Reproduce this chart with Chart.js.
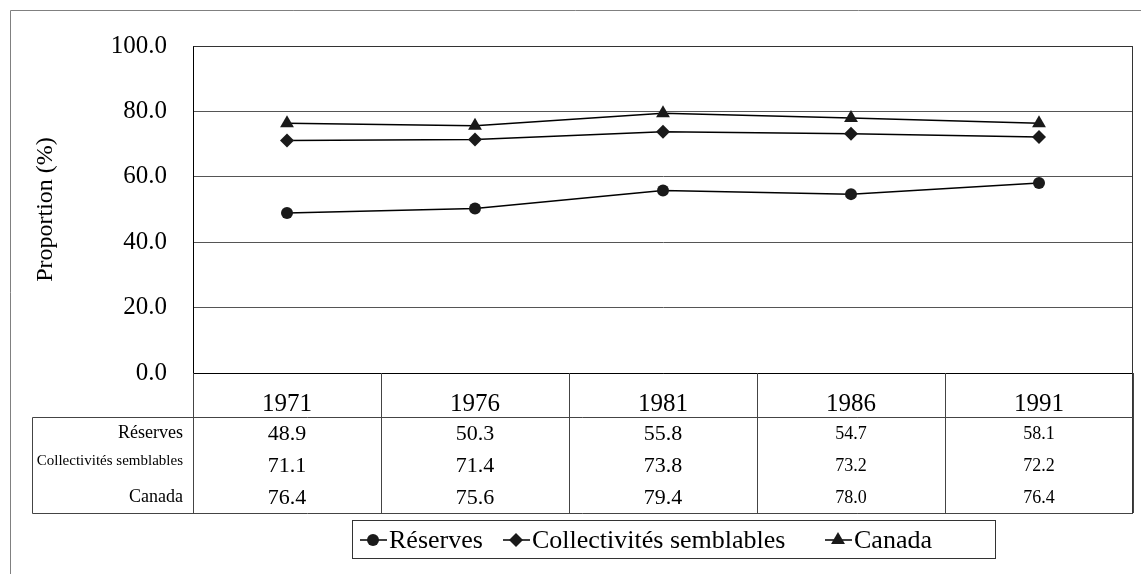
<!DOCTYPE html>
<html>
<head>
<meta charset="utf-8">
<script src="https://cdn.jsdelivr.net/npm/chart.js@4.4.1/dist/chart.umd.min.js"></script>
<style>
  html, body { margin: 0; padding: 0; background: #fff; }
  #wrap { width: 1141px; height: 574px; }
</style>
</head>
<body>
<div id="wrap"><canvas id="c" width="1141" height="574"></canvas></div>
<script>
// ---- data ----
const years = ['1971', '1976', '1981', '1986', '1991'];
const seriesNames = ['Réserves', 'Collectivités semblables', 'Canada'];
const reserves = [48.9, 50.3, 55.8, 54.7, 58.1];
const collectivites = [71.1, 71.4, 73.8, 73.2, 72.2];
const canada = [76.4, 75.6, 79.4, 78.0, 76.4];
const yTicks = [0, 20, 40, 60, 80, 100];

// ---- styles ----
const FONT = '"Liberation Serif", "Times New Roman", serif';
const rowLabelSizes = [18, 15, 18];
const valueSizes = [22, 22, 22, 18, 18];
const pointStyles = ['circle', 'rectRot', 'triangle'];
const pointRadii = [6, 7, 8];
const tableLeft = 32;
const tableBottom = 513;
const headerHeight = 44;

function drawMarker(ctx, style, x, y, r) {
  ctx.beginPath();
  if (style === 'circle') {
    ctx.arc(x, y, r, 0, Math.PI * 2);
  } else if (style === 'rectRot') {
    ctx.moveTo(x, y - r); ctx.lineTo(x + r, y); ctx.lineTo(x, y + r); ctx.lineTo(x - r, y);
    ctx.closePath();
  } else if (style === 'triangle') {
    ctx.moveTo(x, y - r); ctx.lineTo(x + r * 0.87, y + r * 0.5); ctx.lineTo(x - r * 0.87, y + r * 0.5);
    ctx.closePath();
  }
  ctx.fill();
}

const tablePlugin = {
  id: 'tablePlugin',
  afterDraw(chart) {
    const ctx = chart.ctx;
    const ca = chart.chartArea;
    const xs = chart.scales.x;
    ctx.save();
    // outer frame
    ctx.strokeStyle = '#808080';
    ctx.lineWidth = 1;
    ctx.beginPath();
    ctx.moveTo(10.5, 574); ctx.lineTo(10.5, 10.5); ctx.lineTo(1141, 10.5);
    ctx.stroke();

    // plot border
    ctx.strokeStyle = '#333';
    ctx.beginPath();
    ctx.moveTo(ca.left + 0.5, ca.top + 0.5); ctx.lineTo(ca.right - 0.5, ca.top + 0.5);
    ctx.lineTo(ca.right - 0.5, tableBottom + 0.5);
    ctx.stroke();

    const n = years.length;
    const colW = (xs.getPixelForValue(1) - xs.getPixelForValue(0));
    const headerBottom = ca.bottom + headerHeight;
    const rowH = (tableBottom - headerBottom) / seriesNames.length;

    // column boundaries
    ctx.strokeStyle = '#444';
    ctx.beginPath();
    for (let i = 0; i <= n; i++) {
      const bx = Math.round(xs.getPixelForValue(0) - colW / 2 + i * colW) + 0.5;
      ctx.moveTo(bx, ca.bottom); ctx.lineTo(bx, tableBottom);
    }
    // table box
    ctx.moveTo(tableLeft + 0.5, headerBottom + 0.5); ctx.lineTo(ca.right, headerBottom + 0.5);
    ctx.moveTo(tableLeft + 0.5, headerBottom + 0.5); ctx.lineTo(tableLeft + 0.5, tableBottom + 0.5);
    ctx.lineTo(ca.right, tableBottom + 0.5);
    ctx.stroke();

    // texts
    const rows = [reserves, collectivites, canada];
    ctx.fillStyle = '#000';
    ctx.textBaseline = 'middle';
    for (let r = 0; r < rows.length; r++) {
      const cy = headerBottom + rowH * (r + 0.5);
      ctx.textAlign = 'right';
      ctx.font = rowLabelSizes[r] + 'px ' + FONT;
      ctx.fillText(seriesNames[r], ca.left - 10, cy - (r === 1 ? 4 : 0));
      ctx.textAlign = 'center';
      for (let i = 0; i < n; i++) {
        ctx.font = valueSizes[i] + 'px ' + FONT;
        ctx.fillText(rows[r][i].toFixed(1), xs.getPixelForValue(i), cy + 1);
      }
    }

    // legend
    const lg = { left: 352, top: 520, right: 995, bottom: 558 };
    ctx.strokeStyle = '#333';
    ctx.lineWidth = 1;
    ctx.strokeRect(lg.left + 0.5, lg.top + 0.5, lg.right - lg.left, lg.bottom - lg.top);
    const ly = (lg.top + lg.bottom) / 2 + 1;
    const itemX = [360, 503, 825];
    ctx.font = '26px ' + FONT;
    ctx.textAlign = 'left';
    chart.data.datasets.forEach((ds, k) => {
      const x0 = itemX[k];
      ctx.strokeStyle = '#000';
      ctx.lineWidth = 1.5;
      ctx.beginPath(); ctx.moveTo(x0, ly); ctx.lineTo(x0 + 27, ly); ctx.stroke();
      ctx.fillStyle = ds.pointBackgroundColor;
      drawMarker(ctx, ds.pointStyle, x0 + 13, ly, ds.pointRadius);
      ctx.fillStyle = '#000';
      ctx.fillText(ds.label, x0 + 29, ly + 1);
    });
    ctx.restore();
  }
};

const datasets = [reserves, collectivites, canada].map((vals, k) => ({
  label: seriesNames[k],
  data: vals,
  borderColor: '#000',
  borderWidth: 1.5,
  pointStyle: pointStyles[k],
  pointRadius: pointRadii[k],
  pointHoverRadius: pointRadii[k],
  pointBackgroundColor: '#1a1a1a',
  pointBorderColor: '#1a1a1a',
  pointBorderWidth: 0,
  tension: 0
}));

new Chart(document.getElementById('c'), {
  type: 'line',
  data: { labels: years, datasets },
  options: {
    responsive: false,
    animation: false,
    devicePixelRatio: 1,
    layout: { padding: { left: 27, right: 8, top: 46, bottom: 0 } },
    plugins: { legend: { display: false }, tooltip: { enabled: false } },
    scales: {
      x: {
        type: 'category',
        offset: true,
        grid: { display: false, drawTicks: false },
        border: { display: true, color: '#000', width: 1 },
        ticks: { color: '#000', font: { family: FONT, size: 25 }, padding: 16, maxRotation: 0 },
        afterFit(scale) { scale.height = 201; }
      },
      y: {
        min: 0, max: 100,
        afterBuildTicks(scale) { scale.ticks = yTicks.map(v => ({ value: v })); },
        grid: { color: '#555', lineWidth: 1, drawTicks: false },
        border: { display: true, color: '#000', width: 1 },
        ticks: { color: '#000', font: { family: FONT, size: 25 }, padding: 26,
                 callback: v => Number(v).toFixed(1) },
        title: { display: true, text: 'Proportion (%)', color: '#000', font: { family: FONT, size: 24 } },
        afterFit(scale) { scale.width = 166; }
      }
    }
  },
  plugins: [tablePlugin]
});
</script>
</body>
</html>
